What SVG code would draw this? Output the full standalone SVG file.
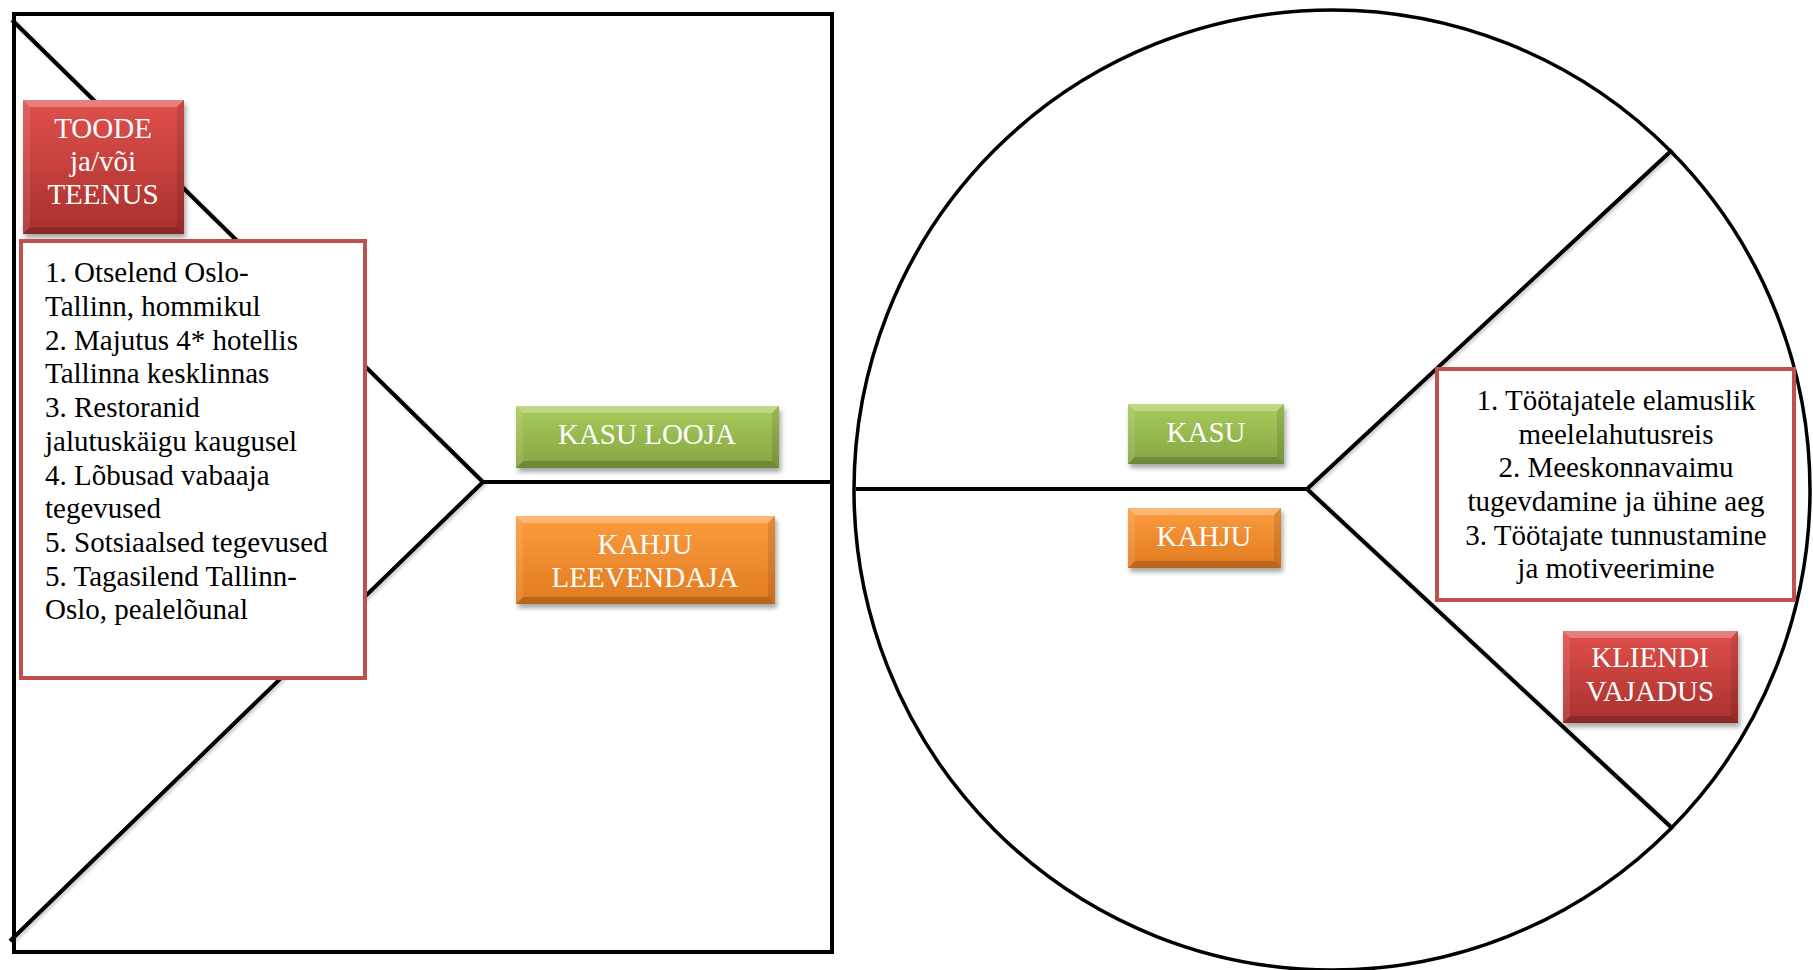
<svg xmlns="http://www.w3.org/2000/svg" width="1813" height="970" viewBox="0 0 1813 970">
<defs>
<linearGradient id="gRed" x1="0" y1="0" x2="0" y2="1"><stop offset="0" stop-color="#E0504C"/><stop offset="1" stop-color="#A8302D"/></linearGradient>
<linearGradient id="gGreen" x1="0" y1="0" x2="0" y2="1"><stop offset="0" stop-color="#A9CB5A"/><stop offset="1" stop-color="#86A544"/></linearGradient>
<linearGradient id="gOrange" x1="0" y1="0" x2="0" y2="1"><stop offset="0" stop-color="#FB9C3E"/><stop offset="1" stop-color="#E17B22"/></linearGradient>
<filter id="sh" x="-10%" y="-10%" width="130%" height="140%"><feDropShadow dx="2" dy="4" stdDeviation="2.5" flood-color="#000" flood-opacity="0.35"/></filter>
<filter id="lsh" x="-5%" y="-5%" width="110%" height="110%"><feDropShadow dx="2" dy="2" stdDeviation="1.5" flood-color="#000" flood-opacity="0.2"/></filter>
</defs>
<style>
.frame{fill:none;stroke:#000;stroke-width:4}
.ln{fill:none;stroke:#000;stroke-width:4;stroke-linecap:butt}
.ln3{fill:none;stroke:#000;stroke-width:3.5}
.tbox{fill:#fff;stroke:#C0504D;stroke-width:4}
.bt{fill:#fff;fill-opacity:0.28}
.bb{fill:#000;fill-opacity:0.18}
.bl{fill:#fff;fill-opacity:0.1}
.br{fill:#000;fill-opacity:0.1}
.lbl{font-family:"Liberation Serif","Times New Roman",serif;font-size:29px;fill:#fff;text-anchor:middle}
.body{font-family:"Liberation Serif","Times New Roman",serif;font-size:29px;fill:#000}
.bodyc{font-family:"Liberation Serif","Times New Roman",serif;font-size:29px;fill:#000;text-anchor:middle}
</style>
<rect width="1813" height="970" fill="#fff"/>
<g id="connectors">
<rect class="frame" x="14" y="14" width="818" height="938"/>
<polyline class="ln" filter="url(#lsh)" points="12,20 483,482 10,941"/>
<line class="ln" x1="483" y1="482" x2="832" y2="482"/>
<ellipse class="ln3" cx="1332" cy="490" rx="478" ry="480"/>
<polyline class="ln" filter="url(#lsh)" points="1672,150 1307,489 1672,828"/>
<line class="ln" x1="856" y1="489" x2="1307" y2="489"/>
</g>
<g id="toode">
<g filter="url(#sh)"><rect x="23" y="100" width="161" height="134" fill="url(#gRed)"/></g>
<polygon class="bt" points="23,100 184,100 177,107 30,107"/>
<polygon class="bb" points="23,234 184,234 177,227 30,227"/>
<polygon class="bl" points="23,100 30,107 30,227 23,234"/>
<polygon class="br" points="184,100 177,107 177,227 184,234"/>
<text class="lbl" x="103" y="138">TOODE</text>
<text class="lbl" x="103" y="171">ja/või</text>
<text class="lbl" x="103" y="204">TEENUS</text>
</g>
<g id="teenused">
<rect class="tbox" x="21" y="241" width="344" height="437"/>
<text class="body" x="45" y="282">1. Otselend Oslo-</text>
<text class="body" x="45" y="316">Tallinn, hommikul</text>
<text class="body" x="45" y="350">2. Majutus 4* hotellis</text>
<text class="body" x="45" y="383">Tallinna kesklinnas</text>
<text class="body" x="45" y="417">3. Restoranid</text>
<text class="body" x="45" y="451">jalutuskäigu kaugusel</text>
<text class="body" x="45" y="485">4. Lõbusad vabaaja</text>
<text class="body" x="45" y="518">tegevused</text>
<text class="body" x="45" y="552">5. Sotsiaalsed tegevused</text>
<text class="body" x="45" y="586">5. Tagasilend Tallinn-</text>
<text class="body" x="45" y="619">Oslo, pealelõunal</text>
</g>
<g id="kasu-looja">
<g filter="url(#sh)"><rect x="516" y="406" width="263" height="62" fill="url(#gGreen)"/></g>
<polygon class="bt" points="516,406 779,406 772,413 523,413"/>
<polygon class="bb" points="516,468 779,468 772,461 523,461"/>
<polygon class="bl" points="516,406 523,413 523,461 516,468"/>
<polygon class="br" points="779,406 772,413 772,461 779,468"/>
<text class="lbl" x="647" y="444">KASU LOOJA</text>
</g>
<g id="kahju-leevendaja">
<g filter="url(#sh)"><rect x="516" y="516" width="259" height="88" fill="url(#gOrange)"/></g>
<polygon class="bt" points="516,516 775,516 768,523 523,523"/>
<polygon class="bb" points="516,604 775,604 768,597 523,597"/>
<polygon class="bl" points="516,516 523,523 523,597 516,604"/>
<polygon class="br" points="775,516 768,523 768,597 775,604"/>
<text class="lbl" x="645" y="554">KAHJU</text>
<text class="lbl" x="645" y="587">LEEVENDAJA</text>
</g>
<g id="kasu">
<g filter="url(#sh)"><rect x="1128" y="404" width="156" height="60" fill="url(#gGreen)"/></g>
<polygon class="bt" points="1128,404 1284,404 1277,411 1135,411"/>
<polygon class="bb" points="1128,464 1284,464 1277,457 1135,457"/>
<polygon class="bl" points="1128,404 1135,411 1135,457 1128,464"/>
<polygon class="br" points="1284,404 1277,411 1277,457 1284,464"/>
<text class="lbl" x="1206" y="442">KASU</text>
</g>
<g id="kahju">
<g filter="url(#sh)"><rect x="1128" y="508" width="153" height="60" fill="url(#gOrange)"/></g>
<polygon class="bt" points="1128,508 1281,508 1274,515 1135,515"/>
<polygon class="bb" points="1128,568 1281,568 1274,561 1135,561"/>
<polygon class="bl" points="1128,508 1135,515 1135,561 1128,568"/>
<polygon class="br" points="1281,508 1274,515 1274,561 1281,568"/>
<text class="lbl" x="1204" y="546">KAHJU</text>
</g>
<g id="vajadused">
<rect class="tbox" x="1437" y="369" width="357" height="231"/>
<text class="bodyc" x="1616" y="410">1. Töötajatele elamuslik</text>
<text class="bodyc" x="1616" y="444">meelelahutusreis</text>
<text class="bodyc" x="1616" y="477">2. Meeskonnavaimu</text>
<text class="bodyc" x="1616" y="511">tugevdamine ja ühine aeg</text>
<text class="bodyc" x="1616" y="545">3. Töötajate tunnustamine</text>
<text class="bodyc" x="1616" y="578">ja motiveerimine</text>
</g>
<g id="kliendi-vajadus">
<g filter="url(#sh)"><rect x="1563" y="631" width="175" height="92" fill="url(#gRed)"/></g>
<polygon class="bt" points="1563,631 1738,631 1731,638 1570,638"/>
<polygon class="bb" points="1563,723 1738,723 1731,716 1570,716"/>
<polygon class="bl" points="1563,631 1570,638 1570,716 1563,723"/>
<polygon class="br" points="1738,631 1731,638 1731,716 1738,723"/>
<text class="lbl" x="1650" y="667">KLIENDI</text>
<text class="lbl" x="1650" y="701">VAJADUS</text>
</g>
</svg>
